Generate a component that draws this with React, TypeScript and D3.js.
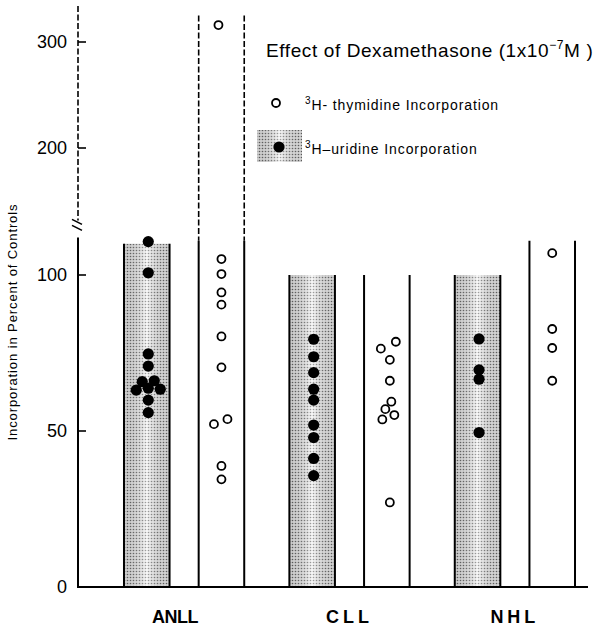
import React from 'react';
import * as d3 from 'd3';

// categories and series
const groups = ['ANLL', 'CLL', 'NHL'];
const seriesKeys = ['uridine', 'thymidine'];

// incorporation in percent of controls
const anllUridine = [110.7, 100.7, 74.7, 70.8, 65.8, 66.1, 63.7, 63.1, 63.4, 59.9, 55.9];
const anllThymidine = [316, 105.1, 100.3, 94.4, 90.5, 80.3, 70.4, 52.2, 53.8, 38.8, 34.5];
const cllUridine = [79.4, 73.8, 68.7, 63.4, 59.9, 51.9, 47.9, 41.2, 35.7];
const cllThymidine = [78.6, 76.4, 72.8, 66.1, 59.4, 57.0, 55.1, 53.7, 27.1];
const nhlUridine = [79.5, 69.6, 66.6, 49.5];
const nhlThymidine = [107, 82.7, 76.6, 66.1];

// side-by-side slot of each point where values overlap (in dodge units)
const anllUridineDodge = [0, 0, 0, 0, -2, 2, 0, -4, 4, 0, 0];
const anllThymidineDodge = [-1, 0, 0, 0, 0, 0, 0, -2.5, 2, 0, 0];
const cllUridineDodge = [0, 0, 0, 0, 0, 0, 0, 0, 0];
const cllThymidineDodge = [3, -2, 1, 1, 1.5, -0.5, 2.5, -1.5, 1];
const nhlUridineDodge = [0, 0, 0, 0];
const nhlThymidineDodge = [0, 0, 0, 0];

// height of the column for each group
const uridineTops = [110, 100, 100];
const thymidineTops = [111, 100, 111];

// axis ticks
const lowerTicks = [0, 50, 100];
const upperTicks = [200, 300];

const uridineData = [anllUridine, cllUridine, nhlUridine];
const thymidineData = [anllThymidine, cllThymidine, nhlThymidine];
const uridineDodge = [anllUridineDodge, cllUridineDodge, nhlUridineDodge];
const thymidineDodge = [anllThymidineDodge, cllThymidineDodge, nhlThymidineDodge];

const W = 610;
const H = 631;
const AXIS_X = 78;
const LOW_MAX = 112;
const HIGH_MIN = 127;
const HIGH_MAX = 334;
const DODGE = 3;
const FONT = '"Liberation Sans", Arial, Helvetica, sans-serif';

const yLow = d3.scaleLinear().domain([0, 100]).range([587, 275]);
const yHigh = d3.scaleLinear().domain([200, 300]).range([148, 42]);
const y = (v: number) => (v <= LOW_MAX ? yLow(v) : yHigh(v));

const xGroup = d3.scaleBand<string>()
  .domain(groups)
  .range([101.5, 597.5])
  .paddingInner(0.273)
  .paddingOuter(0.136);

const xSeries = d3.scaleBand<string>()
  .domain(seriesKeys)
  .range([0, xGroup.bandwidth()])
  .paddingInner(0.39)
  .paddingOuter(0);

const App = () => {
  const colW = xSeries.bandwidth();
  const colX = (g: string, s: string) => (xGroup(g) as number) + (xSeries(s) as number);
  const lowerY0 = yLow(0);

  return (
    <svg
      width={W}
      height={H}
      style={{ position: 'absolute', left: 0, top: 0, background: '#fff' }}
      fontFamily={FONT}
    >
      <defs>
        <pattern id="stipple" width="3" height="3" patternUnits="userSpaceOnUse">
          <rect width="3" height="3" fill="#f2f2f2" />
          <circle cx="1.5" cy="1.5" r="0.8" fill="#666" />
        </pattern>
        <linearGradient id="fade" x1="0" x2="1" y1="0" y2="0">
          <stop offset="0" stopColor="#000" stopOpacity="0.15" />
          <stop offset="0.5" stopColor="#fff" stopOpacity="0.4" />
          <stop offset="1" stopColor="#000" stopOpacity="0.12" />
        </linearGradient>
      </defs>

      {/* shaded uridine columns */}
      {groups.map((g, i) => {
        const x0 = colX(g, 'uridine');
        const top = y(uridineTops[i]);
        return (
          <g key={`u-${g}`}>
            <rect x={x0} y={top} width={colW} height={lowerY0 - top} fill="url(#stipple)" />
            <rect x={x0} y={top} width={colW} height={lowerY0 - top} fill="url(#fade)" />
            <line x1={x0} x2={x0} y1={top} y2={lowerY0} stroke="#000" strokeWidth={2} />
            <line x1={x0 + colW} x2={x0 + colW} y1={top} y2={lowerY0} stroke="#000" strokeWidth={2} />
          </g>
        );
      })}

      {/* open thymidine columns */}
      {groups.map((g, i) => {
        const x0 = colX(g, 'thymidine');
        const top = y(thymidineTops[i]);
        const extends_ = d3.max(thymidineData[i]) as number > LOW_MAX;
        const dashTop = yHigh(325);
        return (
          <g key={`t-${g}`}>
            {[x0, x0 + colW].map((xx, k) => (
              <g key={k}>
                <line x1={xx} x2={xx} y1={top} y2={lowerY0} stroke="#000" strokeWidth={2} />
                {extends_ && (
                  <line x1={xx} x2={xx} y1={dashTop} y2={top} stroke="#000"
                    strokeWidth={1.6} strokeDasharray="6,2.5" />
                )}
              </g>
            ))}
          </g>
        );
      })}

      {/* axes */}
      <line x1={AXIS_X} x2={AXIS_X} y1={yLow(LOW_MAX)} y2={lowerY0 + 1} stroke="#000" strokeWidth={2} />
      <line x1={AXIS_X} x2={AXIS_X} y1={yHigh(HIGH_MAX)} y2={yHigh(HIGH_MIN) - 5} stroke="#000"
        strokeWidth={1.6} strokeDasharray="6,2.5" />
      <line x1={72} x2={82} y1={yHigh(HIGH_MIN) - 6} y2={yHigh(HIGH_MIN) - 1} stroke="#000" strokeWidth={1.6} />
      <line x1={72} x2={82} y1={yHigh(HIGH_MIN)} y2={yHigh(HIGH_MIN) + 5} stroke="#000" strokeWidth={1.6} />
      <line x1={AXIS_X} x2={588} y1={lowerY0} y2={lowerY0} stroke="#000" strokeWidth={2} />

      {lowerTicks.map((t) => (
        <g key={`lt-${t}`}>
          {t > 0 && <line x1={AXIS_X} x2={AXIS_X + 8} y1={yLow(t)} y2={yLow(t)} stroke="#000" strokeWidth={1.6} />}
          <text x={67} y={yLow(t)} dy="0.36em" textAnchor="end" fontSize={18}>{t}</text>
        </g>
      ))}
      {upperTicks.map((t) => (
        <g key={`ut-${t}`}>
          <line x1={AXIS_X} x2={AXIS_X + 8} y1={yHigh(t)} y2={yHigh(t)} stroke="#000" strokeWidth={1.6} />
          <text x={67} y={yHigh(t)} dy="0.36em" textAnchor="end" fontSize={18}>{t}</text>
        </g>
      ))}

      <text
        transform={`translate(17, 322) rotate(-90)`}
        textAnchor="middle"
        fontSize={13}
        letterSpacing={0.9}
      >
        Incorporation in Percent of Controls
      </text>

      {groups.map((g, i) => (
        <text
          key={`lab-${g}`}
          x={(xGroup(g) as number) + xGroup.bandwidth() / 2 - (i === 0 ? 9 : 0)}
          y={623}
          textAnchor="middle"
          fontSize={18}
          fontWeight="bold"
          letterSpacing={i === 0 ? -0.5 : 4}
        >
          {g}
        </text>
      ))}

      {/* points */}
      {groups.map((g, i) => {
        const cx = colX(g, 'uridine') + colW / 2 + 1.5;
        return uridineData[i].map((v, j) => (
          <circle key={`ud-${g}-${j}`} cx={cx + uridineDodge[i][j] * DODGE} cy={y(v)} r={5.6} fill="#000" />
        ));
      })}
      {groups.map((g, i) => {
        const cx = colX(g, 'thymidine') + colW / 2;
        return thymidineData[i].map((v, j) => (
          <circle key={`td-${g}-${j}`} cx={cx + thymidineDodge[i][j] * DODGE} cy={y(v)} r={4}
            fill="#fff" stroke="#000" strokeWidth={1.8} />
        ));
      })}

      {/* legend */}
      <text x={266} y={57} fontSize={19} letterSpacing={0.6}>
        Effect of Dexamethasone (1x10
        <tspan dy={-8} fontSize={12}>−7</tspan>
        <tspan dy={8}>M )</tspan>
      </text>
      <circle cx={276} cy={103} r={4} fill="#fff" stroke="#000" strokeWidth={1.8} />
      <text x={305} y={110} fontSize={14} letterSpacing={0.9}>
        <tspan dy={-6} fontSize={10}>3</tspan>
        <tspan dy={6}>H- thymidine Incorporation</tspan>
      </text>
      <rect x={257} y={130} width={45} height={32} fill="url(#stipple)" />
      <rect x={257} y={130} width={45} height={32} fill="url(#fade)" />
      <circle cx={279} cy={147} r={5.6} fill="#000" />
      <text x={305} y={154} fontSize={14} letterSpacing={0.9}>
        <tspan dy={-6} fontSize={10}>3</tspan>
        <tspan dy={6}>H–uridine Incorporation</tspan>
      </text>
    </svg>
  );
};

export default App;
